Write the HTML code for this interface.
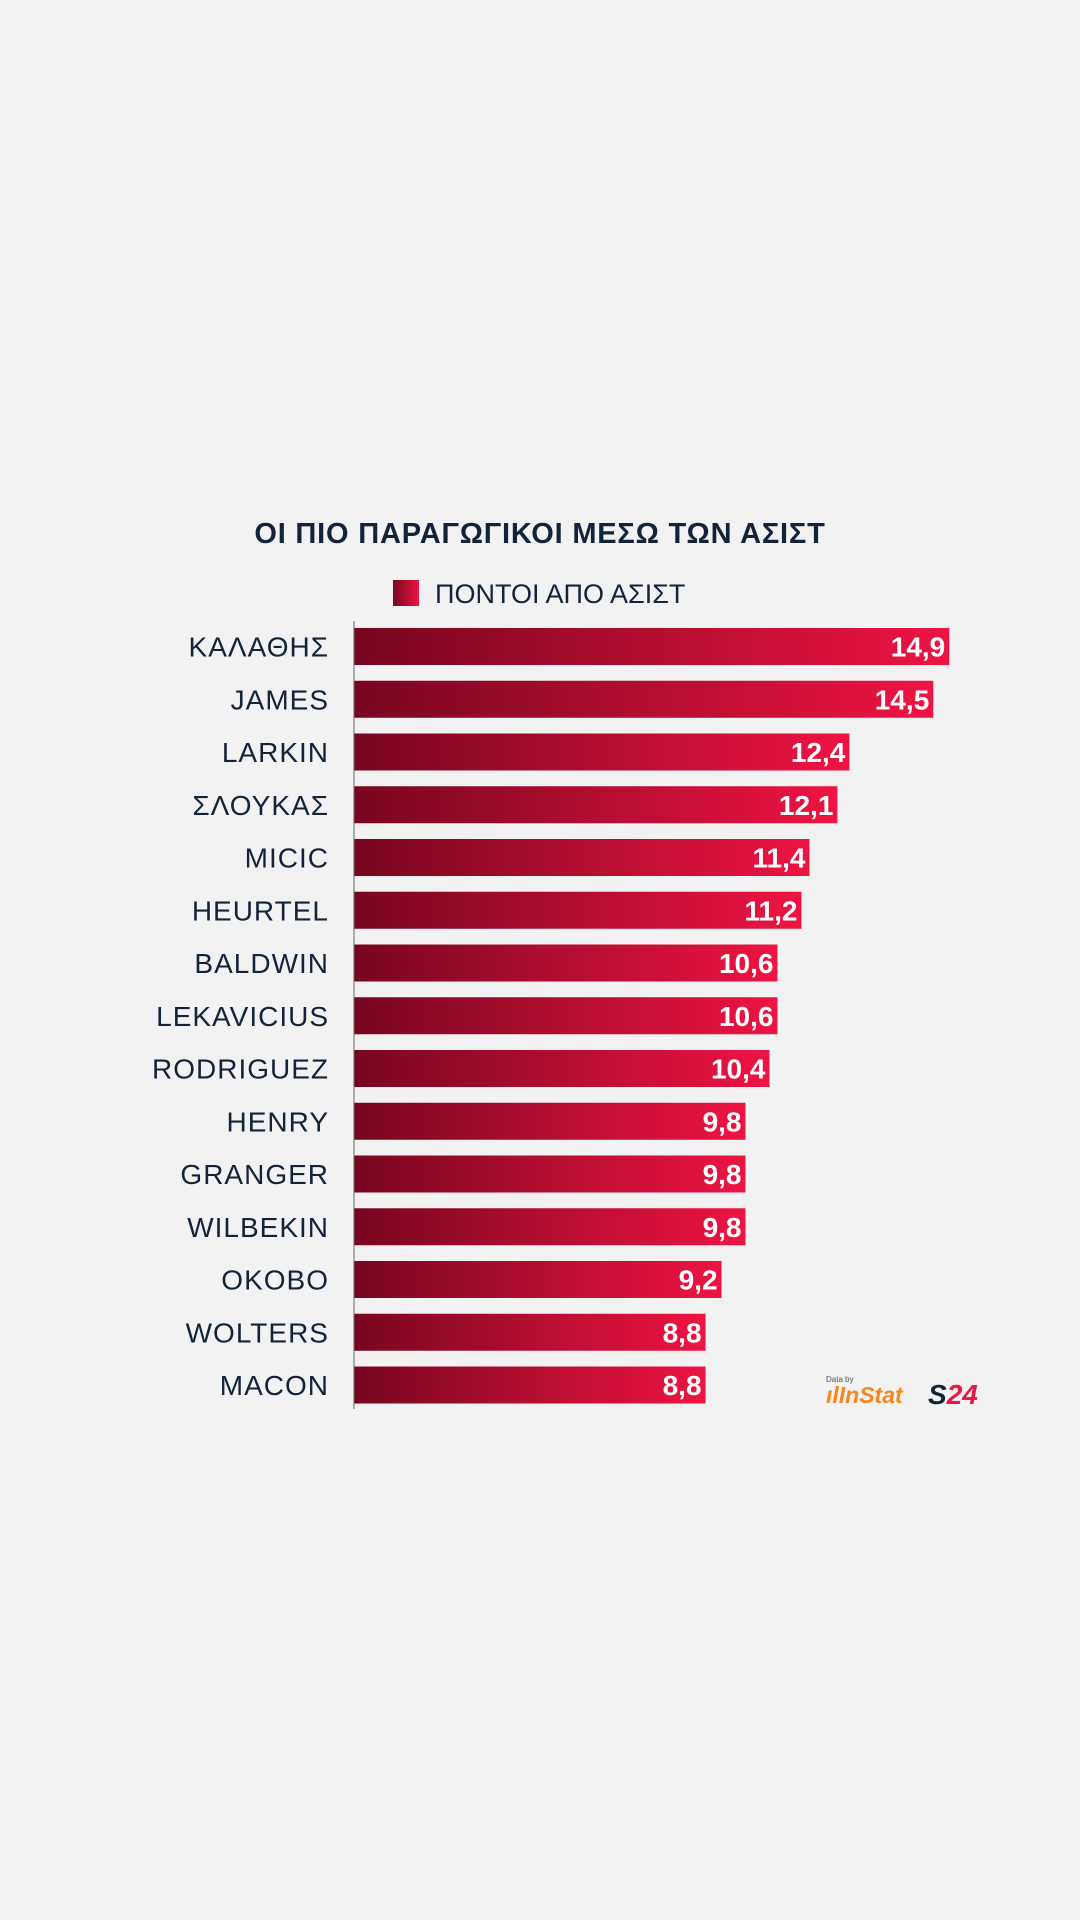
<!DOCTYPE html>
<html><head><meta charset="utf-8">
<style>
body{margin:0;width:1080px;height:1920px;background:#f2f2f2;font-family:"Liberation Sans","DejaVu Sans",sans-serif;overflow:hidden}
#c{position:absolute;left:0;top:0}
</style></head>
<body>
<svg id="c" width="1080" height="1920">
<defs>
<linearGradient id="g" x1="0" x2="1" y1="0" y2="0">
<stop offset="0" stop-color="#780620"/><stop offset="1" stop-color="#ee1443"/>
</linearGradient>
</defs>
<text x="540" y="543" text-anchor="middle" font-size="29" font-weight="bold" letter-spacing="0.8" fill="#13233a">ΟΙ ΠΙΟ ΠΑΡΑΓΩΓΙΚΟΙ ΜΕΣΩ ΤΩΝ ΑΣΙΣΤ</text>
<rect x="393" y="580" width="26" height="26" fill="url(#g)"/>
<text x="435" y="603" font-size="27" fill="#13233a">ΠΟΝΤΟΙ ΑΠΟ ΑΣΙΣΤ</text>
<g id="bars"></g>
<line x1="354" y1="621" x2="354" y2="1409" stroke="#666" stroke-width="1"/>
<g>
<text x="826" y="1382" font-size="8" fill="#555">Data by</text>
<text x="826" y="1403" font-size="23" font-weight="bold" fill="#f7861f" font-style="italic">ılInStat</text>
</g>
<text x="928" y="1404" font-size="28" font-weight="bold" fill="#13233a" font-style="italic">S<tspan fill="#ee1443">24</tspan></text>
</svg>
<script>
const categories=["ΚΑΛΑΘΗΣ","JAMES","LARKIN","ΣΛΟΥΚΑΣ","MICIC","HEURTEL","BALDWIN","LEKAVICIUS","RODRIGUEZ","HENRY","GRANGER","WILBEKIN","OKOBO","WOLTERS","MACON"];
const values=[14.9,14.5,12.4,12.1,11.4,11.2,10.6,10.6,10.4,9.8,9.8,9.8,9.2,8.8,8.8];
const x0=354, pxPerUnit=39.95, rowTop=628, rowStep=52.75, barH=37;
const xs=v=>x0+v*pxPerUnit;
const ys=i=>rowTop+i*rowStep;
const g=document.getElementById('bars');
const NS="http://www.w3.org/2000/svg";
categories.forEach((c,i)=>{
  const r=document.createElementNS(NS,'rect');
  r.setAttribute('x',x0);r.setAttribute('y',ys(i));
  r.setAttribute('width',xs(values[i])-x0);r.setAttribute('height',barH);
  r.setAttribute('fill','url(#g)');
  
  
  g.appendChild(r);
  const l=document.createElementNS(NS,'text');
  l.setAttribute('x',329);l.setAttribute('y',ys(i)+barH/2+10);
  l.setAttribute('text-anchor','end');l.setAttribute('font-size','28');l.setAttribute('letter-spacing','1');l.setAttribute('fill','#13233a');
  l.textContent=c;
  
  
  g.appendChild(l);
  const t=document.createElementNS(NS,'text');
  t.setAttribute('x',xs(values[i])-4);t.setAttribute('y',ys(i)+barH/2+10);
  t.setAttribute('text-anchor','end');t.setAttribute('font-size','28');t.setAttribute('font-weight','bold');t.setAttribute('fill','#fff');
  t.textContent=values[i].toFixed(1).replace('.',',');
  
  
  g.appendChild(t);
});
</script>
</body></html>
